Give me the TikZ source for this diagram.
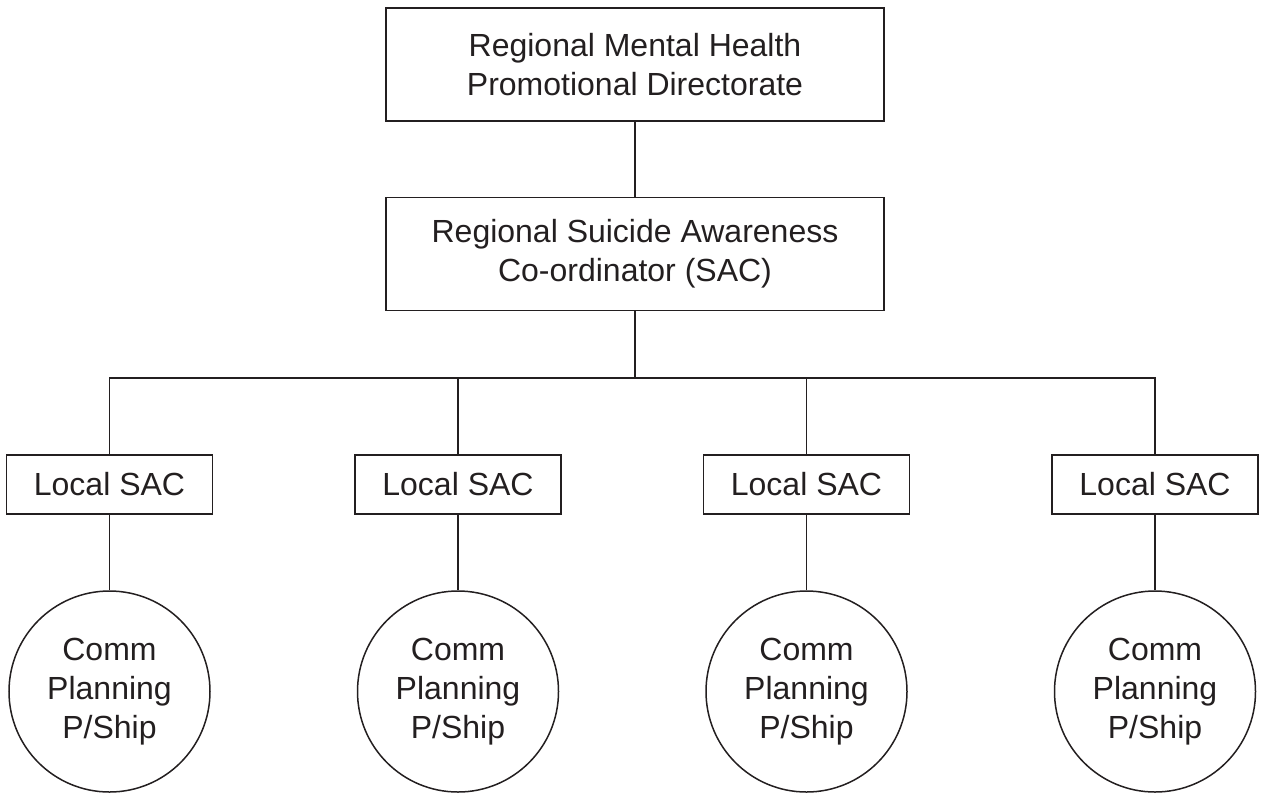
\documentclass[tikz,border=0pt]{standalone}
\usepackage{fontspec}
\setmainfont{Liberation Sans}
\definecolor{ink}{RGB}{35,31,32}
\begin{document}
\begin{tikzpicture}[x=0.5pt,y=-0.5pt,
  every node/.style={font=\fontsize{16}{19.5}\selectfont, text=ink, align=center, inner sep=0pt},
  bigbox/.style={draw=ink, line width=0.75pt, minimum width=249pt, minimum height=56.5pt},
  localbox/.style={draw=ink, line width=0.75pt, minimum width=103pt, minimum height=29.5pt},
  commcircle/.style={draw=ink, line width=0.75pt, circle, minimum size=100.5pt},
  link/.style={draw=ink, line width=0.75pt}]
\useasboundingbox (0,0) rectangle (1263,794);
\node[bigbox] (dir) at (635,64.5) {Regional Mental Health\\Promotional Directorate};
\node[bigbox] (sac) at (635,254) {Regional Suicide Awareness\\Co-ordinator (SAC)};
\coordinate (bus) at (635,378);
\foreach \i/\x in {1/109.5,2/458,3/806.5,4/1155}{
  \node[localbox] (l\i) at (\x,484.5) {Local SAC};
  \node[commcircle] (c\i) at (\x,691.5) {Comm\\Planning\\P/Ship};
}
\draw[link] (dir.south) -- (sac.north);
\draw[link] (sac.south) -- (bus);
\foreach \i in {1,2,3,4}{
  \draw[link] (l\i.north) |- (bus);
  \draw[link] (l\i.south) -- (c\i.north);
}
\end{tikzpicture}
\end{document}
